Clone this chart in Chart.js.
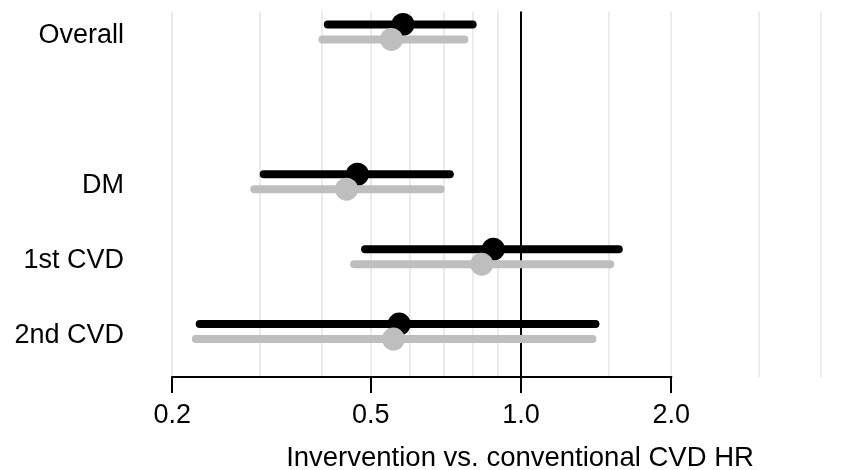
<!DOCTYPE html>
<html>
<head>
<meta charset="utf-8">
<script src="https://cdn.jsdelivr.net/npm/chart.js@4.4.1/dist/chart.umd.min.js"></script>
<style>
  body { margin: 0; background: #fff; }
  #wrap { width: 864px; height: 470px; }
</style>
</head>
<body>
<div id="wrap"><canvas id="forest"></canvas></div>
<script>
// rows (the gap between Overall and DM is an empty row)
const rowLabels = ['Overall', 'DM', '1st CVD', '2nd CVD'];
const rowPos = [0, 2, 3, 4];

// first model (black)
const hrBlack = [0.58, 0.47, 0.88, 0.57];
const loBlack = [0.41, 0.305, 0.487, 0.227];
const hiBlack = [0.80, 0.72, 1.57, 1.41];

// second model (grey)
const hrGrey = [0.55, 0.447, 0.834, 0.555];
const loGrey = [0.40, 0.292, 0.463, 0.223];
const hiGrey = [0.77, 0.69, 1.51, 1.39];

// x axis
const gridValues = [0.2, 0.3, 0.4, 0.5, 0.6, 0.7, 0.8, 0.9, 1, 1.5, 2, 3, 4];
const tickValues = [0.2, 0.5, 1, 2];
const xTitle = 'Invervention vs. conventional CVD HR';

const FONT = 'Liberation Sans, Arial, Helvetica, sans-serif';
const BLACK = '#000000';
const GREY = '#bebebe';
const DODGE = 0.1;

function rangeSets(lo, hi, color, order, shift) {
   return rowPos.map((p, i) => ({
      type: 'scatter',
      showLine: true,
      data: [{ x: lo[i], y: p + shift }, { x: hi[i], y: p + shift }],
      borderColor: color,
      borderWidth: 8,
      borderCapStyle: 'round',
      pointRadius: 0,
      order: order
   }));
}

function pointSet(hr, color, order, shift) {
   return {
      type: 'scatter',
      data: rowPos.map((p, i) => ({ x: hr[i], y: p + shift })),
      backgroundColor: color,
      borderWidth: 0,
      pointRadius: 11.5,
      order: order
   };
}

// capped x axis line + axis title
const axisExtras = {
   id: 'axisExtras',
   afterDraw(chart) {
      const ctx = chart.ctx;
      const x = chart.scales.x;
      const y = chart.chartArea.bottom;
      ctx.save();
      ctx.strokeStyle = BLACK;
      ctx.lineWidth = 2;
      ctx.beginPath();
      ctx.moveTo(x.getPixelForValue(tickValues[0]) - 1, y);
      ctx.lineTo(x.getPixelForValue(tickValues[tickValues.length - 1]) + 1, y);
      ctx.stroke();
      ctx.fillStyle = BLACK;
      ctx.font = '27.5px ' + FONT;
      ctx.textAlign = 'center';
      ctx.textBaseline = 'alphabetic';
      ctx.fillText(xTitle, 520, 466);
      ctx.restore();
   }
};

new Chart(document.getElementById('forest'), {
   type: 'scatter',
   data: {
      datasets: [
         pointSet(hrGrey, GREY, 0, DODGE),
         ...rangeSets(loGrey, hiGrey, GREY, 1, DODGE),
         pointSet(hrBlack, BLACK, 2, -DODGE),
         ...rangeSets(loBlack, hiBlack, BLACK, 3, -DODGE)
      ]
   },
   options: {
      responsive: true,
      maintainAspectRatio: false,
      animation: false,
      layout: { padding: { top: 11, right: 14, left: 0, bottom: 0 } },
      plugins: {
         legend: { display: false },
         tooltip: { enabled: false }
      },
      scales: {
         x: {
            type: 'logarithmic',
            min: 0.16458,
            max: 4.5636,
            bounds: 'data',
            afterBuildTicks: (scale) => { scale.ticks = gridValues.map(v => ({ value: v })); },
            afterFit: (scale) => {
               scale.height = 93;
               scale.paddingLeft = 0;
               scale.paddingRight = 0;
            },
            border: { display: false },
            grid: {
               lineWidth: 2,
               color: (c) => c.tick && c.tick.value === 1 ? BLACK : '#ebebeb',
               drawTicks: true,
               tickLength: 16,
               tickWidth: 2,
               tickColor: (c) => c.tick && tickValues.includes(c.tick.value) ? BLACK : 'rgba(0,0,0,0)'
            },
            ticks: {
               autoSkip: false,
               maxRotation: 0,
               padding: 6,
               color: BLACK,
               font: { family: FONT, size: 27 },
               callback: (v) => tickValues.includes(v) ? v.toFixed(1) : ''
            }
         },
         y: {
            type: 'linear',
            reverse: true,
            min: -0.273,
            max: 4.607,
            bounds: 'data',
            afterBuildTicks: (scale) => { scale.ticks = rowPos.map(v => ({ value: v })); },
            afterFit: (scale) => {
               scale.width = 130;
               scale.paddingTop = 0;
               scale.paddingBottom = 0;
            },
            border: { display: false },
            grid: { display: false, drawTicks: false },
            ticks: {
               padding: 6,
               labelOffset: 4,
               color: BLACK,
               font: { family: FONT, size: 27 },
               callback: (v) => rowLabels[rowPos.indexOf(v)]
            }
         }
      }
   },
   plugins: [axisExtras]
});
</script>
</body>
</html>
